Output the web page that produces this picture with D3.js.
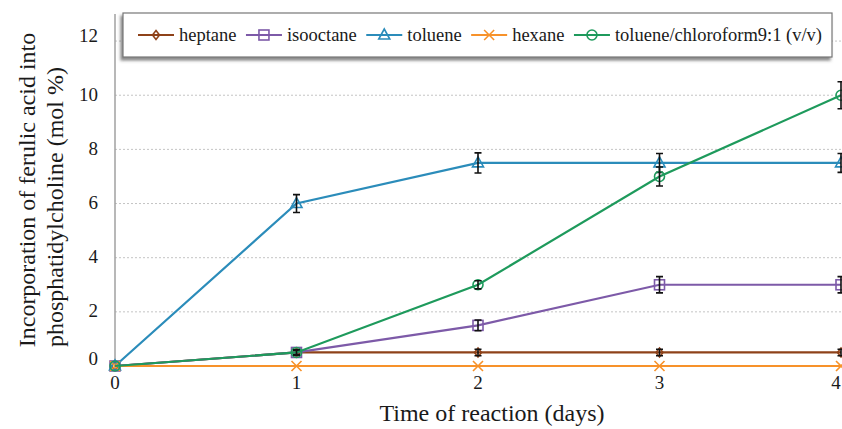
<!DOCTYPE html>
<html>
<head>
<meta charset="utf-8">
<script src="https://cdn.jsdelivr.net/npm/d3@7/dist/d3.min.js"></script>
<style>
  html, body { margin: 0; padding: 0; background: #fff; }
  svg { display: block; }
</style>
</head>
<body>
<svg id="chart" width="842" height="429"></svg>
<script>
// ---- data ----
const days = [0, 1, 2, 3, 4];
const seriesNames = ["heptane", "isooctane", "toluene", "hexane", "toluene/chloroform9:1 (v/v)"];
const heptane   = [0, 0.5, 0.5, 0.5, 0.5];
const isooctane = [0, 0.5, 1.5, 3.0, 3.0];
const toluene   = [0, 6.0, 7.5, 7.5, 7.5];
const hexane    = [0, 0, 0, 0, 0];
const tolChloro = [0, 0.5, 3.0, 7.0, 10.0];
const heptaneErr   = [0, 0.08, 0.12, 0.12, 0.12];
const isooctaneErr = [0, 0.1, 0.2, 0.3, 0.3];
const tolueneErr   = [0, 0.33, 0.37, 0.35, 0.35];
const hexaneErr    = [0, 0, 0, 0, 0];
const tolChloroErr = [0, 0.1, 0.15, 0.35, 0.5];
const xTicks = [0, 1, 2, 3, 4];
const yTicks = [0, 2, 4, 6, 8, 10, 12];
const xTitle = "Time of reaction (days)";
const yTitle = ["Incorporation of ferulic acid into", "phosphatidylcholine (mol %)"];

const colors = ["#8e4219", "#7d5aa8", "#2b8cba", "#f7922a", "#1e9a5c"];
const symbols = ["diamond", "square", "triangle", "cross", "circle"];
const values = [heptane, isooctane, toluene, hexane, tolChloro];
const errs = [heptaneErr, isooctaneErr, tolueneErr, hexaneErr, tolChloroErr];

const FONT = "'Liberation Serif', 'Times New Roman', serif";
const txt = "#1a1a1a";
const svg = d3.select("#chart");
const x = d3.scaleLinear().domain([0, 4]).range([115, 841]);
const y = d3.scaleLinear().domain([0, 13]).range([366, 14]);

function T(sel, size) {
  return sel.attr("font-family", FONT).style("font-family", FONT)
    .attr("font-size", size).attr("fill", txt);
}

// gridlines
svg.append("g").selectAll("line").data(yTicks.filter(d => d > 0)).join("line")
  .attr("x1", x(0)).attr("x2", 842)
  .attr("y1", d => y(d)).attr("y2", d => y(d))
  .attr("stroke", "#c4c4c4").attr("stroke-width", 1).attr("stroke-dasharray", "2,2");

// y axis line
svg.append("line").attr("x1", x(0)).attr("x2", x(0)).attr("y1", y(13)).attr("y2", y(0) + 3)
  .attr("stroke", "#a0a0a0").attr("stroke-width", 1.5);

// y tick labels
T(svg.append("g").selectAll("text").data(yTicks).join("text")
  .attr("x", 98).attr("y", d => y(d) - (d === 0 ? 8 : d === 12 ? 6 : 1))
  .attr("dy", "0.35em").attr("text-anchor", "end"), 19)
  .text(d => d);

// x tick labels
T(svg.append("g").selectAll("text").data(xTicks).join("text")
  .attr("x", d => Math.min(x(d), 836)).attr("y", 389).attr("text-anchor", "middle"), 19)
  .text(d => d);

// titles
T(svg.append("text").attr("x", 492).attr("y", 421).attr("text-anchor", "middle"), 24).text(xTitle);
const yPos = [[35, 190], [63, 207]];
yTitle.forEach((t, i) => {
  T(svg.append("text").attr("transform", `translate(${yPos[i][0]},${yPos[i][1]}) rotate(-90)`)
    .attr("text-anchor", "middle"), 24).text(t);
});

// marker drawing
function drawMarker(g, type, color, cx, cy) {
  if (type === "diamond") {
    g.append("path").attr("d", `M${cx},${cy-4.5}L${cx+3.5},${cy}L${cx},${cy+4.5}L${cx-3.5},${cy}Z`)
      .attr("fill", "none").attr("stroke", color).attr("stroke-width", 1.6);
  } else if (type === "square") {
    g.append("rect").attr("x", cx-5).attr("y", cy-5).attr("width", 10).attr("height", 10)
      .attr("fill", "none").attr("stroke", color).attr("stroke-width", 1.6);
  } else if (type === "triangle") {
    g.append("path").attr("d", `M${cx},${cy-6}L${cx+5.5},${cy+4}L${cx-5.5},${cy+4}Z`)
      .attr("fill", "none").attr("stroke", color).attr("stroke-width", 1.6);
  } else if (type === "cross") {
    g.append("path").attr("d", `M${cx-5},${cy-5}L${cx+5},${cy+5}M${cx-5},${cy+5}L${cx+5},${cy-5}`)
      .attr("fill", "none").attr("stroke", color).attr("stroke-width", 1.6);
  } else {
    g.append("circle").attr("cx", cx).attr("cy", cy).attr("r", 5)
      .attr("fill", "none").attr("stroke", color).attr("stroke-width", 1.6);
  }
}

const line = d3.line().x((d, i) => x(days[i])).y(d => y(d));

values.forEach((vals, s) => {
  const g = svg.append("g");
  g.append("path").datum(vals).attr("d", line).attr("fill", "none")
    .attr("stroke", colors[s]).attr("stroke-width", 2.2);
  vals.forEach((v, i) => {
    drawMarker(g, symbols[s], colors[s], x(days[i]), y(v));
    const e = errs[s][i];
    if (e > 0) {
      const cx = x(days[i]);
      g.append("path")
        .attr("d", `M${cx},${y(v+e)}L${cx},${y(v-e)}M${cx-3.5},${y(v+e)}L${cx+3.5},${y(v+e)}M${cx-3.5},${y(v-e)}L${cx+3.5},${y(v-e)}`)
        .attr("stroke", "#111").attr("stroke-width", 1.6).attr("fill", "none");
    }
  });
});

// legend
const defs = svg.append("defs");
const f = defs.append("filter").attr("id", "shadow").attr("x", "-10%").attr("y", "-30%").attr("width", "120%").attr("height", "170%");
f.append("feDropShadow").attr("dx", -2).attr("dy", 3).attr("stdDeviation", 1.5).attr("flood-color", "#555").attr("flood-opacity", 0.7);

const lg = svg.append("g");
lg.append("rect").attr("x", 123).attr("y", 13).attr("width", 709).attr("height", 44)
  .attr("fill", "#fff").attr("stroke", "#777").attr("stroke-width", 1.2).attr("filter", "url(#shadow)");
const ly = 35;
const items = seriesNames.map((name, s) => {
  const gi = lg.append("g");
  gi.append("line").attr("x1", 0).attr("x2", 36).attr("y1", ly).attr("y2", ly)
    .attr("stroke", colors[s]).attr("stroke-width", 2.2);
  drawMarker(gi, symbols[s], colors[s], 18, ly);
  const t = T(gi.append("text").attr("x", 41).attr("y", ly + 6), 18.5).text(name);
  return { gi, w: 41 + t.node().getComputedTextLength() };
});
// spread items across the box
const totalW = d3.sum(items, d => d.w);
const gap = Math.max(8, (822 - 138 - totalW) / (items.length - 1));
let lx = 138;
items.forEach(it => { it.gi.attr("transform", `translate(${lx},0)`); lx += it.w + gap; });
</script>
</body>
</html>
